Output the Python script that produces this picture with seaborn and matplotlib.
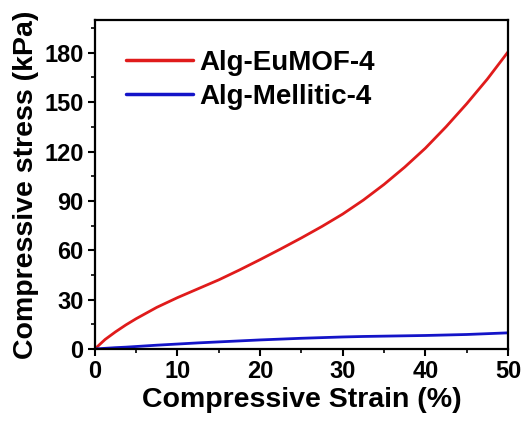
import matplotlib
matplotlib.use("Agg")
import matplotlib.pyplot as plt
from matplotlib.ticker import MultipleLocator
import seaborn as sns
import pandas as pd

# Compressive stress-strain curves
strain = [0, 1.25, 2.5, 3.75, 5, 7.5, 10, 12.5, 15, 17.5, 20, 22.5, 25, 27.5,
          30, 32.5, 35, 37.5, 40, 42.5, 45, 47.5, 50]
stress_eumof = [0, 5.8, 10.4, 14.6, 18.4, 25.3, 31.2, 36.6, 42.0, 48.0, 54.3,
                60.8, 67.5, 74.5, 82.0, 90.5, 100.0, 110.5, 122.0, 135.0,
                149.0, 164.0, 180.5]
stress_mellitic = [0, 0.4, 0.8, 1.1, 1.5, 2.3, 3.0, 3.7, 4.3, 4.9, 5.5, 6.0,
                   6.5, 6.9, 7.3, 7.6, 7.8, 8.0, 8.2, 8.5, 8.8, 9.3, 9.8]
series_names = ["Alg-EuMOF-4", "Alg-Mellitic-4"]
series_colors = ["#e01b1b", "#1414c8"]

df = pd.DataFrame({
    "strain": strain * 2,
    "stress": stress_eumof + stress_mellitic,
    "sample": [series_names[0]] * len(strain) + [series_names[1]] * len(strain),
})

sns.set_style("ticks")
plt.rcParams["font.family"] = ["Liberation Sans", "DejaVu Sans"]
plt.rcParams["font.weight"] = "bold"
plt.rcParams["text.color"] = "black"
plt.rcParams["axes.labelcolor"] = "black"
plt.rcParams["xtick.color"] = "black"
plt.rcParams["ytick.color"] = "black"

fig = plt.figure(figsize=(5.21, 4.23), dpi=100)
ax = fig.add_axes([0.182, 0.175, 0.793, 0.778])

sns.lineplot(data=df, x="strain", y="stress", hue="sample",
             palette=dict(zip(series_names, series_colors)),
             linewidth=2.0, ax=ax, legend=True)

ax.set_xlim(0, 50)
ax.set_ylim(0, 200)
ax.xaxis.set_major_locator(MultipleLocator(10))
ax.xaxis.set_minor_locator(MultipleLocator(5))
ax.yaxis.set_minor_locator(MultipleLocator(15))
ax.set_yticks([0, 30, 60, 90, 120, 150, 180])

for s in ax.spines.values():
    s.set_linewidth(1.6)
    s.set_color("black")
    s.set_visible(True)

ax.tick_params(axis="both", which="major", direction="out", length=5,
               width=1.5, labelsize=17, pad=3, colors="black")
ax.tick_params(axis="both", which="minor", direction="out", length=3,
               width=1.2, colors="black")
for lbl in ax.get_xticklabels() + ax.get_yticklabels():
    lbl.set_fontweight("bold")

ax.set_xlabel("Compressive Strain (%)", fontsize=20.5, fontweight="bold",
              labelpad=3, color="black")
ax.set_ylabel("Compressive stress (kPa)", fontsize=20.5, fontweight="bold",
              labelpad=4, color="black")

leg = ax.legend(loc="upper left", bbox_to_anchor=(0.015, 0.985), frameon=False,
                handlelength=2.4, handletextpad=0.25, labelspacing=0.3,
                prop={"weight": "bold", "size": 20})
for line in leg.get_lines():
    line.set_linewidth(2.5)
for t in leg.get_texts():
    t.set_color("black")

fig.savefig("out.png", dpi=100)
